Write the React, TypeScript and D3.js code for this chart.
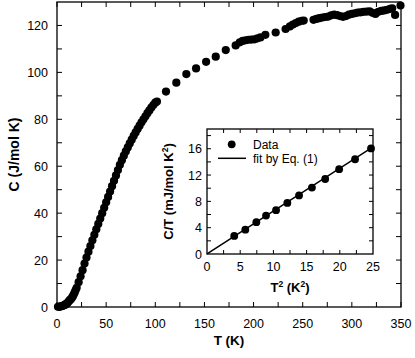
import * as d3 from 'd3'

// main panel: C(T)
const tempK = [
  1, 2, 3, 4, 5, 6, 7, 8, 9, 10, 11, 12, 13, 14, 15, 16, 17, 18, 19, 20,
  22, 24, 26, 28, 30, 32, 34, 36, 38, 40, 42, 44, 46, 48, 50, 52, 54, 56, 58, 60,
  62, 64, 66, 68, 70, 72, 74, 76, 78, 80, 82, 84, 86, 88, 90, 92, 94, 96, 98, 100,
  101.7, 110.9, 121.4, 131.6, 141.5, 151.7, 161.5, 171.7, 181.8,
  186, 189, 192, 195, 198, 201, 204, 207, 212, 222.5, 232.6,
  237, 240, 243, 246, 249, 251,
  261, 264, 267, 270, 273, 276, 279, 282, 285, 288, 291, 294, 297, 300,
  303, 306, 309, 312, 315, 318, 321, 324, 327, 330, 333, 336, 339, 341, 344, 349.5
]
const heatC = [
  0.1, 0.1, 0.2, 0.3, 0.4, 0.5, 0.7, 0.9, 1.2, 1.5, 1.9, 2.4, 2.9, 3.3, 3.8, 4.5, 5.3, 6.2, 7.2, 8.2,
  10.6, 13.1, 15.7, 18.5, 21.1, 23.6, 26.0, 28.4, 30.8, 33.1, 35.4, 37.7, 40.0, 42.3, 44.6, 46.9, 49.2, 51.5, 53.8, 56.1,
  58.4, 60.6, 62.6, 64.5, 66.3, 68.0, 69.7, 71.3, 72.9, 74.4, 75.9, 77.3, 78.7, 80.0, 81.3, 82.6, 83.8, 85.0, 86.1, 87.1,
  87.6, 91.8, 95.6, 99.3, 101.7, 104.5, 106.7, 109.5, 111.5,
  112.8, 113.4, 113.7, 113.9, 114.0, 114.1, 114.5, 114.9, 116.0, 117.0, 118.5,
  119.6, 120.4, 121.0, 121.6, 122.0, 122.1,
  122.4, 122.8, 123.1, 123.4, 123.6, 123.8, 124.3, 124.6, 124.4, 124.0, 123.7, 124.0, 124.6, 124.9,
  125.2, 125.5, 125.6, 125.8, 125.9, 126.0, 125.4, 124.9, 125.8, 126.2, 126.4, 126.7, 127.1, 127.3, 124.5, 128.5
]

// inset: C/T vs T^2
const tSquared = [4.1, 5.77, 7.43, 8.89, 10.4, 12.1, 13.86, 15.8, 17.8, 19.9, 22.3, 24.7]
const cOverT = [2.74, 3.7, 4.83, 5.84, 6.66, 7.77, 8.9, 10.1, 11.4, 12.9, 14.4, 16.05]
const fitT2 = [0, 25]
const fitGamma = 0.02
const fitBeta = 0.65

const xTickLabels = [0, 50, 100, 150, 200, 250, 300, 350]
const yTickLabels = [0, 20, 40, 60, 80, 100, 120]
const insetXLabels = [0, 5, 10, 15, 20, 25]
const insetYLabels = [0, 4, 8, 12, 16]

const FONT = "'Liberation Sans', Arial, Helvetica, sans-serif"

const main = { left: 57, right: 401, top: 2, bottom: 307 }
const inset = { left: 207, right: 373, top: 129, bottom: 254 }

export default function App() {
  const x = d3.scaleLinear().domain([0, 350]).range([main.left, main.right])
  const y = d3.scaleLinear().domain([0, 130]).range([main.bottom, main.top])
  const ix = d3.scaleLinear().domain([0, 25]).range([inset.left, inset.right])
  const iy = d3.scaleLinear().domain([0, 19]).range([inset.bottom, inset.top])

  const xMinor = d3.range(0, 351, 25)
  const yMinor = d3.range(10, 130, 10)
  const ixMinor = d3.range(2.5, 25, 2.5)
  const iyMinor = d3.range(2, 19, 2)
  const tick = 5
  const itick = 4

  const fitLine = d3
    .line<number>()
    .x((d) => ix(d))
    .y((d) => iy(fitGamma + fitBeta * d))

  return (
    <svg
      width={415}
      height={358}
      style={{ position: 'absolute', left: 0, top: 0, background: '#fff' }}
      fontFamily={FONT}
    >
      {/* main data */}
      <g>
        {tempK.map((t, i) => (
          <circle key={i} cx={x(t)} cy={y(heatC[i])} r={4.1} fill="#000" />
        ))}
      </g>

      {/* main frame + ticks */}
      <rect
        x={main.left}
        y={main.top}
        width={main.right - main.left}
        height={main.bottom - main.top}
        fill="none"
        stroke="#000"
        strokeWidth={1.3}
      />
      <g stroke="#000" strokeWidth={1}>
        {xMinor.map((v) => (
          <g key={'x' + v}>
            <line x1={x(v)} x2={x(v)} y1={main.bottom} y2={main.bottom - tick} />
            <line x1={x(v)} x2={x(v)} y1={main.top} y2={main.top + tick} />
          </g>
        ))}
        {yMinor.map((v) => (
          <g key={'y' + v}>
            <line x1={main.left} x2={main.left + tick} y1={y(v)} y2={y(v)} />
            <line x1={main.right} x2={main.right - tick} y1={y(v)} y2={y(v)} />
          </g>
        ))}
      </g>
      <g fontSize={12.5} fill="#000">
        {xTickLabels.map((v) => (
          <text key={v} x={x(v)} y={main.bottom + 21} textAnchor="middle">
            {v}
          </text>
        ))}
        {yTickLabels.map((v) => (
          <text key={v} x={main.left - 9} y={y(v) + 4.5} textAnchor="end">
            {v}
          </text>
        ))}
      </g>
      <text
        x={(main.left + main.right) / 2}
        y={345}
        textAnchor="middle"
        fontSize={13.5}
        fontWeight="bold"
      >
        T (K)
      </text>
      <text
        transform={`translate(19,${(main.top + main.bottom) / 2}) rotate(-90)`}
        textAnchor="middle"
        fontSize={14}
        fontWeight="bold"
      >
        C (J/mol K)
      </text>

      {/* inset */}
      <rect
        x={inset.left}
        y={inset.top}
        width={inset.right - inset.left}
        height={inset.bottom - inset.top}
        fill="#fff"
        stroke="none"
      />
      <path d={fitLine(fitT2) ?? ''} fill="none" stroke="#000" strokeWidth={1.5} />
      {tSquared.map((t, i) => (
        <circle key={i} cx={ix(t)} cy={iy(cOverT[i])} r={3.9} fill="#000" />
      ))}
      <rect
        x={inset.left}
        y={inset.top}
        width={inset.right - inset.left}
        height={inset.bottom - inset.top}
        fill="none"
        stroke="#000"
        strokeWidth={1.3}
      />
      <g stroke="#000" strokeWidth={1}>
        {ixMinor.map((v) => (
          <g key={'ix' + v}>
            <line x1={ix(v)} x2={ix(v)} y1={inset.bottom} y2={inset.bottom - itick} />
            <line x1={ix(v)} x2={ix(v)} y1={inset.top} y2={inset.top + itick} />
          </g>
        ))}
        {iyMinor.map((v) => (
          <g key={'iy' + v}>
            <line x1={inset.left} x2={inset.left + itick} y1={iy(v)} y2={iy(v)} />
            <line x1={inset.right} x2={inset.right - itick} y1={iy(v)} y2={iy(v)} />
          </g>
        ))}
      </g>
      <g fontSize={12.5} fill="#000">
        {insetXLabels.map((v) => (
          <text key={v} x={ix(v)} y={inset.bottom + 17} textAnchor="middle">
            {v}
          </text>
        ))}
        {insetYLabels.map((v) => (
          <text key={v} x={inset.left - 5} y={iy(v) + 4.5} textAnchor="end">
            {v}
          </text>
        ))}
      </g>
      <text
        x={(inset.left + inset.right) / 2}
        y={292}
        textAnchor="middle"
        fontSize={13}
        fontWeight="bold"
      >
        T<tspan fontSize={8.5} dy={-5}>2</tspan>
        <tspan dy={5}> (K</tspan>
        <tspan fontSize={8.5} dy={-5}>2</tspan>
        <tspan dy={5}>)</tspan>
      </text>
      <text
        transform={`translate(173,${(inset.top + inset.bottom) / 2}) rotate(-90)`}
        textAnchor="middle"
        fontSize={13}
        fontWeight="bold"
      >
        C/T (mJ/mol K<tspan fontSize={8.5} dy={-5}>2</tspan>
        <tspan dy={5}>)</tspan>
      </text>

      {/* legend */}
      <circle cx={231.7} cy={144.3} r={3.9} fill="#000" />
      <text x={253} y={148.5} fontSize={12}>
        Data
      </text>
      <line x1={218} x2={246} y1={158.3} y2={158.3} stroke="#000" strokeWidth={1.5} />
      <text x={253} y={162.5} fontSize={12}>
        fit by Eq. (1)
      </text>
    </svg>
  )
}
